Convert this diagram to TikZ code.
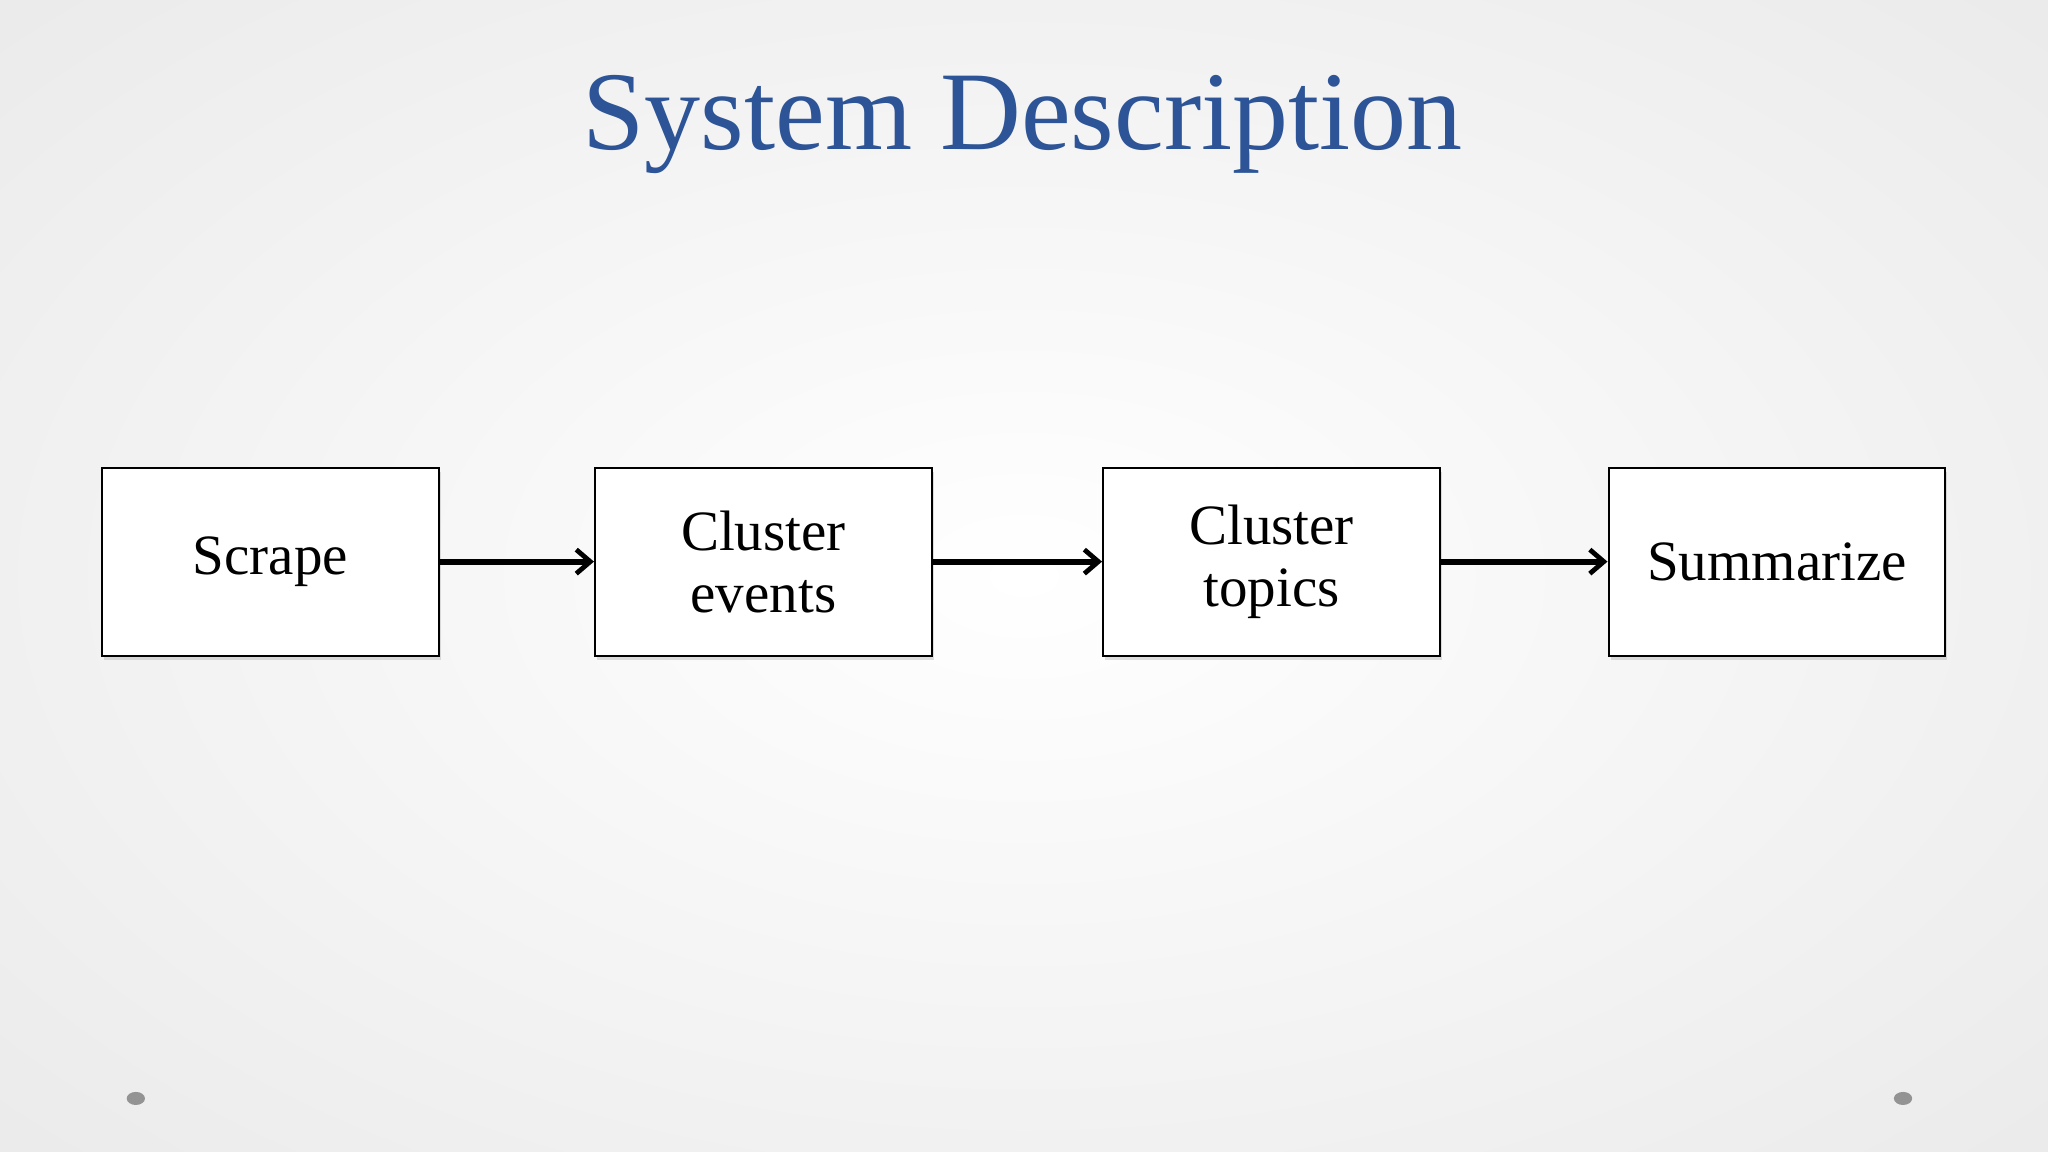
\documentclass[tikz,border=0pt]{standalone}
\usepackage{fontspec}
\setmainfont{Liberation Serif}
\usetikzlibrary{arrows.meta,shadows}
\definecolor{titleblue}{RGB}{44,84,150}
\begin{document}
\begin{tikzpicture}[x=0.653pt,y=-0.653pt,
  box/.style={draw=black,line width=1pt,fill=white,minimum width=258*0.653pt,minimum height=144*0.653pt,align=center,font=\fontsize{28.5}{31}\selectfont,drop shadow={shadow xshift=1pt,shadow yshift=-2pt,opacity=0.25}},
  arr/.style={line width=3pt,-{Straight Barb[length=7pt,width=12pt,line width=2.4pt]}}]
\useasboundingbox (0,0) rectangle (1568,882);
\shade[inner color=white,outer color=gray!16] (-300,-200) rectangle (1868,1082);
\node[font=\fontsize{56}{60}\selectfont,text=titleblue] (title) at (783,95) {System Description};
\node[box] (a) at (207,430) {\raisebox{-3pt}{Scrape}};
\node[box] (b) at (584.5,430) {Cluster\\events};
\node[box] (c) at (973.5,430) {Cluster\\topics};
\node[box] (d) at (1360.5,430) {\raisebox{-2pt}{Summarize}};
\draw[arr] (a) -- (b);
\draw[arr] (b) -- (c);
\draw[arr] (c) -- (d);
\fill[gray!85] (104,841) ellipse (7 and 5);
\fill[gray!85] (1457,841) ellipse (7 and 5);
\end{tikzpicture}
\end{document}
